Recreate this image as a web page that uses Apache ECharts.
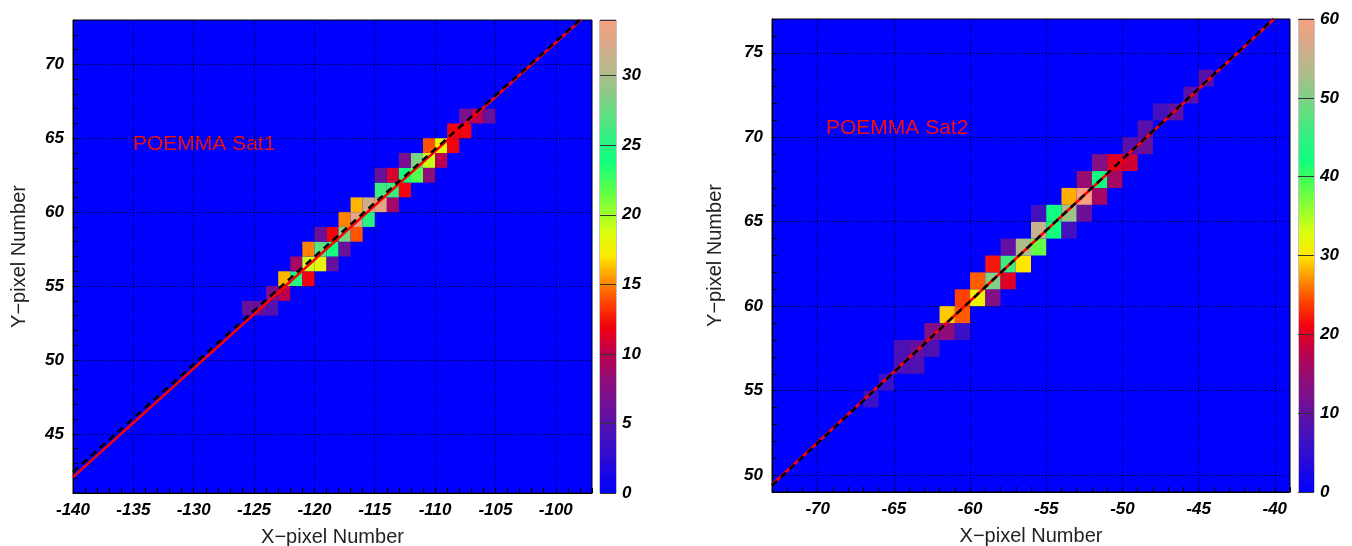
<!DOCTYPE html>
<html>
<head>
<meta charset="utf-8">
<title>POEMMA Sat1 / Sat2 pixel maps</title>
<script src="https://cdn.jsdelivr.net/npm/echarts@6/dist/echarts.min.js"></script>
<style>
  html, body { margin: 0; padding: 0; background: #fff; }
  #chart { width: 1352px; height: 546px; }
</style>
</head>
<body>
<div id="chart"></div>
<script>
// bins: [x pixel, y pixel, counts]
const sat1Cells = [
  [-126, 53, 6], [-125, 53, 6], [-124, 53, 5],
  [-124, 54, 7], [-123, 54, 10],
  [-123, 55, 16], [-122, 55, 25], [-121, 55, 12],
  [-122, 56, 9], [-121, 56, 19], [-120, 56, 18], [-119, 56, 6],
  [-121, 57, 15], [-120, 57, 27], [-119, 57, 24], [-118, 57, 6],
  [-120, 58, 6], [-119, 58, 12], [-118, 58, 28], [-117, 58, 14],
  [-118, 59, 15], [-117, 59, 33], [-116, 59, 25],
  [-117, 60, 16], [-116, 60, 32], [-115, 60, 33], [-114, 60, 9],
  [-115, 61, 26], [-114, 61, 26], [-113, 61, 12],
  [-115, 62, 6], [-114, 62, 11], [-113, 62, 24], [-112, 62, 22], [-111, 62, 8],
  [-113, 63, 7], [-112, 63, 28], [-111, 63, 19], [-110, 63, 10],
  [-111, 64, 14], [-110, 64, 18], [-109, 64, 12],
  [-109, 65, 12], [-108, 65, 12],
  [-108, 66, 7], [-107, 66, 10], [-106, 66, 6]
];
const sat2Cells = [
  [-67, 54, 6],
  [-66, 55, 6],
  [-65, 56, 8], [-64, 56, 8],
  [-65, 57, 8], [-64, 57, 10], [-63, 57, 8],
  [-63, 58, 13], [-62, 58, 14], [-61, 58, 6],
  [-62, 59, 29], [-61, 59, 25],
  [-61, 60, 24], [-60, 60, 31], [-59, 60, 13],
  [-60, 61, 25], [-59, 61, 50], [-58, 61, 20],
  [-59, 62, 22], [-58, 62, 46], [-57, 62, 30],
  [-58, 63, 10], [-57, 63, 53], [-56, 63, 38],
  [-56, 64, 55], [-55, 64, 42], [-54, 64, 7],
  [-56, 65, 7], [-55, 65, 42], [-54, 65, 52], [-53, 65, 11],
  [-54, 66, 28], [-53, 66, 60], [-52, 66, 16],
  [-53, 67, 15], [-52, 67, 42], [-51, 67, 16],
  [-52, 68, 13], [-51, 68, 20], [-50, 68, 19],
  [-50, 69, 9], [-49, 69, 11],
  [-49, 70, 9],
  [-48, 71, 7], [-47, 71, 10],
  [-46, 72, 9],
  [-45, 73, 9]
];
const sat1FitRed = [[-140, 42.07], [-97.92, 73]];
const sat1FitBlack = [[-140, 42.42], [-98.0, 73]];
const sat2FitRed = [[-73, 49.43], [-40.04, 77]];
const sat2FitBlack = [[-73, 49.38], [-40.1, 77]];
const sat1XRange = [-140, -97];
const sat1YRange = [41, 73];
const sat2XRange = [-73, -39];
const sat2YRange = [49, 77];
const sat1ColorMax = 34;
const sat2ColorMax = 60;
const sat1ColorStep = 5;
const sat2ColorStep = 10;
const labelStep = 5;
const panelNames = ['POEMMA Sat1', 'POEMMA Sat2'];
const xTitle = 'X\u2212pixel Number';
const yTitle = 'Y\u2212pixel Number';

// rainbow palette, evenly spaced from 0 to max
const palette = [
  '#0000ff', '#2008e0', '#3a10c8', '#5810a8', '#781090', '#980c70', '#c00048',
  '#f00010', '#ff4000', '#ff9000', '#ffe800', '#d8ff10', '#90ff30', '#50ff50',
  '#10ff80', '#30f080', '#60e080', '#90c888', '#b8b888', '#d8a888', '#f8a080'
];

const chart = echarts.init(document.getElementById('chart'));

const numFont = {
  color: '#000',
  fontFamily: 'Liberation Sans',
  fontStyle: 'italic',
  fontWeight: 'bold',
  fontSize: 17
};
const nameFont = {
  color: '#222',
  fontFamily: 'Liberation Sans',
  fontSize: 20
};

// grid line colours cycle per integer tick, black every 5 units
function gridColors(min) {
  const c = [];
  for (let i = 0; i < labelStep; i++) {
    c.push((min + i) % labelStep === 0 ? '#000' : 'rgba(0,0,0,0)');
  }
  return c;
}

function renderCell(params, api) {
  const p0 = api.coord([api.value(0), api.value(1) + 1]);
  const p1 = api.coord([api.value(0) + 1, api.value(1)]);
  return {
    type: 'rect',
    shape: { x: p0[0], y: p0[1], width: p1[0] - p0[0], height: p1[1] - p0[1] },
    style: { fill: api.visual('color') }
  };
}

function valueAxis(idx, range, nameGap, extra) {
  return Object.assign({
    type: 'value',
    gridIndex: idx,
    min: range[0],
    max: range[1],
    interval: 1,
    axisLine: { show: true, onZero: false, lineStyle: { color: '#000', width: 1 } },
    axisTick: { show: true, inside: true, length: 5, lineStyle: { color: '#000' } },
    axisLabel: Object.assign({
      margin: 9,
      formatter: v => (v % labelStep === 0 ? String(v) : '')
    }, numFont),
    splitLine: {
      show: true,
      lineStyle: { color: gridColors(range[0]), width: 1, type: [1, 2] }
    },
    nameLocation: 'middle',
    nameGap: nameGap,
    nameTextStyle: nameFont
  }, extra);
}

function colorbarAxes(idx, max, step) {
  return {
    x: {
      type: 'category', gridIndex: idx, data: ['c'], show: false
    },
    y: {
      type: 'value', gridIndex: idx, position: 'right',
      min: 0, max: max, interval: step, z: 10,
      axisLine: { show: false },
      axisTick: {
        show: true, inside: true, length: 16,
        interval: (i, v) => v % step === 0 && v > 0 && v < max,
        lineStyle: { color: '#333', width: 1 }
      },
      axisLabel: Object.assign({
        margin: 6,
        formatter: v => (v % step === 0 ? String(v) : '')
      }, numFont),
      splitLine: { show: false }
    }
  };
}

function gradient() {
  return new echarts.graphic.LinearGradient(0, 1, 0, 0,
    palette.map((c, i) => ({ offset: i / (palette.length - 1), color: c })));
}

const cb1 = colorbarAxes(1, sat1ColorMax, sat1ColorStep);
const cb2 = colorbarAxes(3, sat2ColorMax, sat2ColorStep);

const gridBase = {
  show: true, backgroundColor: '#0000ff', borderColor: '#000', borderWidth: 1,
  containLabel: false, outerBoundsMode: 'none'
};
const cbGridBase = {
  show: true, backgroundColor: 'transparent', borderColor: '#888', borderWidth: 1,
  containLabel: false, outerBoundsMode: 'none'
};

chart.setOption({
  animation: false,
  backgroundColor: '#fff',
  grid: [
    Object.assign({ left: 73, top: 20, width: 519, height: 473 }, gridBase),
    Object.assign({ left: 600, top: 20, width: 16, height: 473 }, cbGridBase),
    Object.assign({ left: 772, top: 19, width: 518, height: 473 }, gridBase),
    Object.assign({ left: 1299, top: 19, width: 15, height: 473 }, cbGridBase)
  ],
  xAxis: [
    valueAxis(0, sat1XRange, 34, { name: xTitle }),
    cb1.x,
    valueAxis(2, sat2XRange, 34, { name: xTitle }),
    cb2.x
  ],
  yAxis: [
    valueAxis(0, sat1YRange, 44, { name: yTitle }),
    cb1.y,
    valueAxis(2, sat2YRange, 47, { name: yTitle }),
    cb2.y
  ],
  visualMap: [
    { type: 'continuous', show: false, seriesIndex: 0, dimension: 2,
      min: 0, max: sat1ColorMax, inRange: { color: palette } },
    { type: 'continuous', show: false, seriesIndex: 4, dimension: 2,
      min: 0, max: sat2ColorMax, inRange: { color: palette } }
  ],
  graphic: [
    { type: 'text', left: 133, top: 134,
      style: { text: panelNames[0], fill: '#f01010', font: '21px "Liberation Sans"' } },
    { type: 'text', left: 826, top: 118,
      style: { text: panelNames[1], fill: '#f01010', font: '21px "Liberation Sans"' } }
  ],
  series: [
    { type: 'custom', xAxisIndex: 0, yAxisIndex: 0, renderItem: renderCell,
      encode: { x: 0, y: 1 }, data: sat1Cells, z: 2 },
    { type: 'line', xAxisIndex: 0, yAxisIndex: 0, data: sat1FitRed, symbol: 'none',
      lineStyle: { color: '#ff0000', width: 2.5 }, z: 3 },
    { type: 'line', xAxisIndex: 0, yAxisIndex: 0, data: sat1FitBlack, symbol: 'none',
      lineStyle: { color: '#000', width: 2.5, type: [7, 5] }, z: 4 },
    { type: 'bar', xAxisIndex: 1, yAxisIndex: 1, data: [sat1ColorMax], barWidth: '100%',
      itemStyle: { color: gradient() }, z: 2 },
    { type: 'custom', xAxisIndex: 2, yAxisIndex: 2, renderItem: renderCell,
      encode: { x: 0, y: 1 }, data: sat2Cells, z: 2 },
    { type: 'line', xAxisIndex: 2, yAxisIndex: 2, data: sat2FitRed, symbol: 'none',
      lineStyle: { color: '#ff0000', width: 2.5 }, z: 3 },
    { type: 'line', xAxisIndex: 2, yAxisIndex: 2, data: sat2FitBlack, symbol: 'none',
      lineStyle: { color: '#000', width: 2.5, type: [7, 5] }, z: 4 },
    { type: 'bar', xAxisIndex: 3, yAxisIndex: 3, data: [sat2ColorMax], barWidth: '100%',
      itemStyle: { color: gradient() }, z: 2 }
  ]
});
</script>
</body>
</html>
